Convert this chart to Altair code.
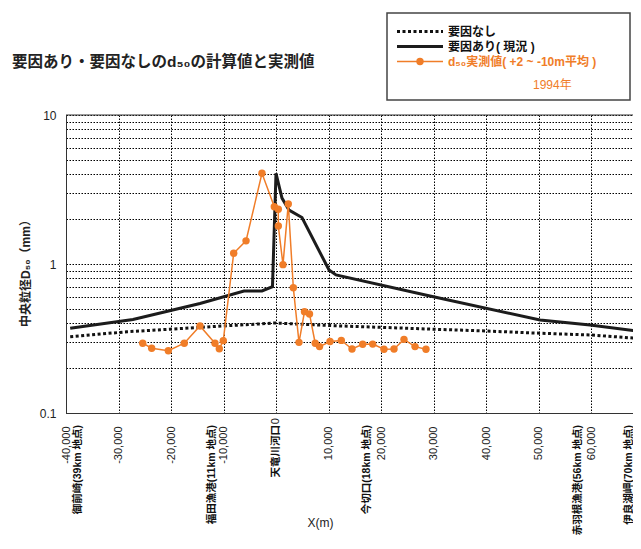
import altair as alt
import pandas as pd

# ---- data ----
# measured d50 (orange, 1994)
obs_x = [-25390, -23680, -20510, -17470, -14480, -11620, -10800, -10040, -8060, -5710,
         -2670, -320, 440, 440, 1330, 2340, 3300, 4380, 5430, 6380,
         7470, 8290, 10290, 12440, 14480, 16510, 18420, 20570, 22480, 24380,
         26480, 28570]
obs_y = [0.294, 0.272, 0.262, 0.294, 0.384, 0.294, 0.270, 0.306, 1.18, 1.43,
         4.06, 2.42, 2.33, 1.80, 0.99, 2.53, 0.693, 0.298, 0.479, 0.462,
         0.294, 0.279, 0.302, 0.307, 0.269, 0.289, 0.290, 0.268, 0.269, 0.312,
         0.279, 0.268]

# calculated, with factor (solid)
with_x = [-39200, -27240, -14480, -6100, -2670, -670, 0, 1140, 2480, 4950,
          10100, 11430, 29330, 50290, 59810, 68000, 70000]
with_y = [0.370, 0.424, 0.543, 0.659, 0.659, 0.705, 4.06, 2.77, 2.30, 2.05,
          0.911, 0.844, 0.610, 0.421, 0.390, 0.358, 0.358]

# calculated, without factor (dotted)
without_x = [-39200, -28380, -20190, -10100, -3050, -380, 12190, 19810, 29900,
             40190, 50290, 59810, 68400]
without_y = [0.325, 0.351, 0.365, 0.384, 0.396, 0.402, 0.384, 0.376, 0.365,
             0.355, 0.343, 0.334, 0.318]

x_ticks = [-40000, -30000, -20000, -10000, 0, 10000, 20000, 30000, 40000, 50000, 60000]
y_ticks = [0.1, 0.2, 0.3, 0.4, 0.5, 0.6, 0.7, 0.8, 0.9,
           1, 2, 3, 4, 5, 6, 7, 8, 9, 10]

site_x = [-37700, -12250, 0, 17280, 57430, 67240]
site_labels = ["御前崎(39km 地点)", "福田漁港(11km 地点)", "天竜川河口",
               "今切口(18km 地点)", "赤羽根漁港(56km 地点)", "伊良湖岬(70km 地点)"]

title_text = "要因あり・要因なしのd₅₀の計算値と実測値"
legend_labels = ["要因なし", "要因あり( 現況 )", "d₅₀実測値( +2 ~ -10m平均 )"]
legend_year = "1994年"

ORANGE = "#F07D28"
FONT = "Liberation Sans, Noto Sans CJK JP"

df_obs = pd.DataFrame({"x": obs_x, "y": obs_y, "i": list(range(len(obs_x)))})
df_with = pd.DataFrame({"x": with_x, "y": with_y})
df_without = pd.DataFrame({"x": without_x, "y": without_y})
df_sites = pd.DataFrame({"x": site_x, "label": site_labels})
df_zero = pd.DataFrame({"x": [0], "label": ["0"]})

xscale = alt.Scale(domain=[-40000, 68000], nice=False, zero=False)
yscale = alt.Scale(type="log", domain=[0.1, 10], nice=False)

xaxis = alt.Axis(
    values=x_ticks,
    labelExpr="datum.value == 0 ? '' : (datum.value < 0 ? '-' : '') + format(abs(datum.value), ',')",
    labelAngle=270, labelAlign="right", labelBaseline="middle", labelPadding=13,
    labelFont=FONT, labelFontSize=11, labelColor="#222", labelFlush=False, labelOverlap=False,
    ticks=False, grid=True, gridColor="#000", gridDash=[1.5, 1.5], gridWidth=1, gridOpacity=1,
    domainColor="#333", domainWidth=1,
    title="X(m)", titleFont=FONT, titleFontSize=12, titleFontWeight="normal", titleColor="#222",
    titleX=254, titleY=109, titleAlign="center", titleBaseline="middle",
)
yaxis = alt.Axis(
    values=y_ticks,
    labelExpr="datum.value == 0.1 ? '0.1' : datum.value == 1 ? '1' : datum.value == 10 ? '10' : ''",
    labelPadding=10, labelFont=FONT, labelFontSize=12, labelColor="#222",
    labelFlush=False, labelOverlap=False,
    ticks=False, grid=True, gridColor="#000", gridDash=[1.5, 1.5], gridWidth=1, gridOpacity=1,
    domainColor="#333", domainWidth=1,
    title="中央粒径D₅₀（mm）", titleFont=FONT, titleFontSize=12, titleFontWeight="bold",
    titleColor="#222", titleAngle=270, titleX=-41, titleY=155,
    titleAlign="center", titleBaseline="middle",
)

X = alt.X("x:Q", scale=xscale, axis=xaxis)
Y = alt.Y("y:Q", scale=yscale, axis=yaxis)

top_border = alt.Chart(pd.DataFrame({"y": [10]})).mark_rule(
    color="#333", strokeWidth=1).encode(y=Y)

line_without = alt.Chart(df_without).mark_line(
    color="#111", strokeWidth=3, strokeDash=[3, 2.5], clip=True).encode(x=X, y=Y)
line_with = alt.Chart(df_with).mark_line(
    color="#1c1c1c", strokeWidth=3, clip=True).encode(x=X, y=Y)
obs_line = alt.Chart(df_obs).mark_line(
    color=ORANGE, strokeWidth=1.5, clip=True).encode(x=X, y=Y, order="i:Q")
obs_pts = alt.Chart(df_obs).mark_circle(
    color=ORANGE, size=55, opacity=1).encode(x=X, y=Y)

sites = alt.Chart(df_sites).mark_text(
    angle=270, align="right", baseline="middle", font=FONT, fontSize=10.5,
    fontWeight="bold", color="#111").encode(x=X, y=alt.value(310), text="label:N")
zero_lbl = alt.Chart(df_zero).mark_text(
    angle=270, align="right", baseline="middle", font=FONT, fontSize=11,
    color="#222").encode(x=X, y=alt.value(303), text="label:N")

# title
title = alt.Chart(pd.DataFrame({"t": [title_text]})).mark_text(
    align="left", baseline="middle", font=FONT, fontSize=15.5, fontWeight="bold",
    color="#222").encode(x=alt.value(-54), y=alt.value(-53), text="t:N")

# legend (drawn by hand, above the plot)
one = pd.DataFrame({"a": [0]})
leg_box = alt.Chart(one).mark_rect(fill="white", stroke="#444", strokeWidth=1.5).encode(
    x=alt.value(321), x2=alt.value(564), y=alt.value(-102), y2=alt.value(-15))
leg_l1 = alt.Chart(one).mark_rule(color="#111", strokeWidth=3, strokeDash=[3, 2.5]).encode(
    x=alt.value(331), x2=alt.value(377), y=alt.value(-83.5))
leg_l2 = alt.Chart(one).mark_rule(color="#1c1c1c", strokeWidth=3).encode(
    x=alt.value(331), x2=alt.value(377), y=alt.value(-68.5))
leg_l3 = alt.Chart(one).mark_rule(color=ORANGE, strokeWidth=1.5).encode(
    x=alt.value(331), x2=alt.value(377), y=alt.value(-53.5))
leg_dot = alt.Chart(one).mark_circle(color=ORANGE, size=55, opacity=1).encode(
    x=alt.value(354), y=alt.value(-53.5))
leg_t = alt.Chart(pd.DataFrame({"t": legend_labels[:2], "yy": [-83.5, -68.5]})).mark_text(
    align="left", baseline="middle", font=FONT, fontSize=12, fontWeight="bold",
    color="#111").encode(x=alt.value(382), y=alt.Y("yy:Q", scale=None), text="t:N")
leg_t3 = alt.Chart(pd.DataFrame({"t": [legend_labels[2]]})).mark_text(
    align="left", baseline="middle", font=FONT, fontSize=12, fontWeight="bold",
    color=ORANGE).encode(x=alt.value(382), y=alt.value(-53.5), text="t:N")
leg_year = alt.Chart(pd.DataFrame({"t": [legend_year]})).mark_text(
    align="left", baseline="middle", font=FONT, fontSize=12,
    color=ORANGE).encode(x=alt.value(467), y=alt.value(-30), text="t:N")

chart = alt.layer(
    top_border, line_without, line_with, obs_line, obs_pts, sites, zero_lbl,
    title, leg_box, leg_l1, leg_l2, leg_l3, leg_dot, leg_t, leg_t3, leg_year,
).properties(
    width=567, height=298,
    autosize=alt.AutoSizeParams(type="none"),
    padding={"left": 58, "top": 107, "right": 0, "bottom": 123},
    background="white",
).configure_view(strokeWidth=0)

chart.save("out.html", embed_options={"renderer": "svg", "actions": False})
